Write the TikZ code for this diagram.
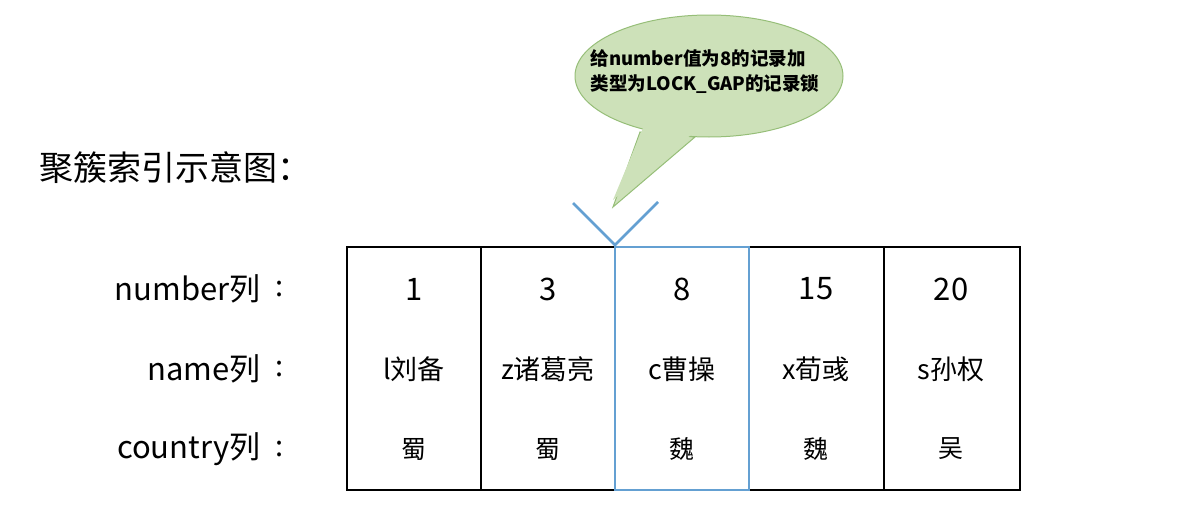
\documentclass[tikz,border=0pt]{standalone}
\usepackage{fontspec}
\setmainfont{Noto Sans CJK SC}
\usetikzlibrary{shapes.geometric}
\begin{document}
\begin{tikzpicture}[x=1pt,y=-1pt,
  cell/.style={font=\fontsize{29}{32}\selectfont,anchor=center},
  lbl/.style={font=\fontsize{31}{34}\selectfont,anchor=east}]
\useasboundingbox (0,0) rectangle (1184,514);
\definecolor{bl}{RGB}{100,160,210}
\definecolor{gr}{RGB}{205,225,185}
\definecolor{grd}{RGB}{150,190,120}
% callout
\path[fill=gr,draw=grd,line width=1pt] (640,132) -- (613,207) -- (695,137) -- cycle;
\node[ellipse,minimum width=268,minimum height=122,fill=gr,draw=grd,line width=1pt,inner sep=0] (call) at (709,76) {};
\fill[gr] (643,128) -- (613,200) -- (692,134) -- cycle;
\node[align=left,font=\fontsize{18.5}{25}\selectfont\bfseries] (ct) at (705,72) {给number值为8的记录加\\类型为LOCK\_GAP的记录锁};
\node[anchor=west,font=\fontsize{34}{36}\selectfont] (title) at (36,168) {聚簇索引示意图：};
% table
\draw[line width=2.2pt] (347,247) rectangle (1020,490);
\foreach \x in {481,884} \draw[line width=2.2pt] (\x,247) -- (\x,490);
\draw[draw=bl,line width=2.6pt] (615,247) rectangle (749,490);
\coordinate (tip) at (615,245);
\coordinate (vl) at (573,203);
\coordinate (vr) at (658,202);
\draw[draw=bl,line width=2.6pt] (vl) -- (tip) -- (vr);
% labels
\node[lbl] (l1) at (264,289) {number列};
\node[lbl] (l2) at (264,369) {name列};
\node[lbl] (l3) at (264,449) {country列};
\foreach \y in {289,369,449} \node[cell] at (280,\y) {:};
\foreach \x/\a/\b/\c in {414/1/l刘备/蜀,548/3/z诸葛亮/蜀,682/8/c曹操/魏,816/15/x荀彧/魏,951/20/s孙权/吴}{
  \node[cell,font=\fontsize{31}{34}\selectfont] at (\x,289) {\a};
  \node[cell,font=\fontsize{27}{30}\selectfont] at (\x,369) {\b};
  \node[cell,font=\fontsize{25}{28}\selectfont] at (\x,449) {\c};
}
\end{tikzpicture}
\end{document}
